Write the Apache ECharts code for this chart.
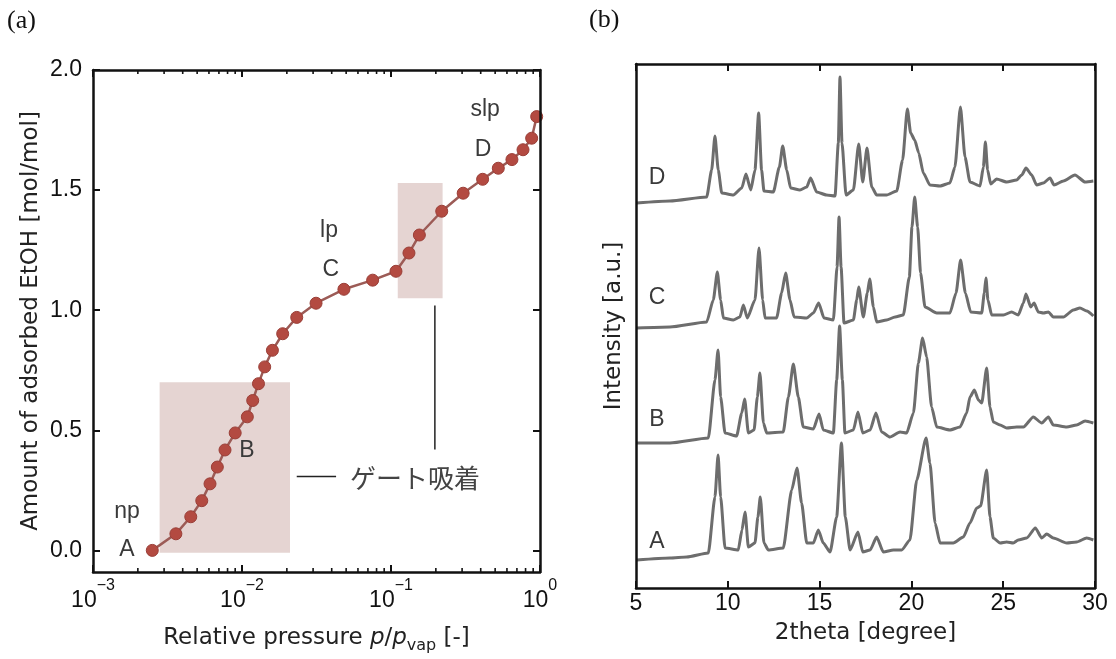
<!DOCTYPE html>
<html><head><meta charset="utf-8">
<script src="https://cdn.jsdelivr.net/npm/echarts@6/dist/echarts.min.js"></script>
<style>html,body{margin:0;padding:0;background:#fff}#c{width:1116px;height:659px}</style>
</head><body><div id="c"></div>
<script>
// ---------- Panel (a): adsorption isotherm ----------
const pressure = [0.0025, 0.0036, 0.00453, 0.00537, 0.0061, 0.00683, 0.00769, 0.0090, 0.01086, 0.0118, 0.0129, 0.0142, 0.0160, 0.01875, 0.0233, 0.0314, 0.0483, 0.0753, 0.108, 0.132, 0.155, 0.219, 0.305, 0.412, 0.525, 0.648, 0.769, 0.879, 0.95];
const amount = [0.0, 0.069, 0.14, 0.207, 0.277, 0.347, 0.418, 0.489, 0.556, 0.624, 0.694, 0.764, 0.833, 0.902, 0.970, 1.029, 1.087, 1.125, 1.162, 1.238, 1.313, 1.412, 1.487, 1.545, 1.591, 1.627, 1.668, 1.716, 1.806];
const yTicksA = [0.0, 0.5, 1.0, 1.5, 2.0];
// shaded gate-adsorption regions: [pMin, pMax, amountMin, amountMax]
const gateRects = [[0.0028, 0.021, -0.01, 0.70], [0.111, 0.222, 1.05, 1.53]];
// leader lines: [p1, a1, p2, a2]
const leaderLines = [[0.197, 1.02, 0.197, 0.42], [0.0233, 0.308, 0.0428, 0.308]];
const labelsA = [
  {t: 'np', p: 0.00169, a: 0.16},
  {t: 'A', p: 0.00169, a: 0.004},
  {t: 'B', p: 0.0108, a: 0.415},
  {t: 'lp', p: 0.0384, a: 1.332},
  {t: 'C', p: 0.0395, a: 1.168},
  {t: 'slp', p: 0.428, a: 1.834},
  {t: 'D', p: 0.414, a: 1.669}
];
const gateText = {t: 'ゲート吸着', p: 0.0531, a: 0.300};

// ---------- Panel (b): XRD patterns ----------
const thetaD = [5.04,6.85,8.85,9.12,9.30,9.48,9.67,10.30,10.76,10.99,11.25,11.48,11.68,11.84,11.97,12.48,12.81,12.99,13.21,13.42,13.93,14.30,14.51,14.84,15.38,15.84,16.02,16.11,16.22,16.44,16.84,17.13,17.35,17.58,17.84,18.11,18.65,19.20,19.52,19.78,19.96,20.18,20.40,20.65,21.01,21.56,22.10,22.37,22.67,22.92,23.19,23.74,23.92,24.03,24.15,24.32,24.64,25.19,25.73,26.01,26.24,26.55,26.82,27.19,27.55,27.77,28.28,28.91,29.46,29.91];
const intD = [385,387,391,418,452,418,395,393,400,414,398,418,475,418,397,396,421,442,418,400,398,401,410,396,393,392,445,511,445,393,398,444,406,440,401,393,393,397,428,479,455,448,435,415,403,402,405,421,481,431,406,402,421,446,418,404,409,406,408,413,420,413,403,405,410,403,407,413,406,407];
const thetaC = [5.04,6.85,8.85,9.21,9.43,9.61,9.76,10.30,10.66,10.85,11.06,11.48,11.70,11.90,12.03,12.66,12.93,13.15,13.39,13.61,14.30,14.66,14.95,15.24,15.75,15.95,16.06,16.17,16.33,16.84,17.02,17.13,17.38,17.60,17.73,17.93,18.11,18.65,19.11,19.56,19.89,20.03,20.18,20.34,20.50,20.74,21.38,22.10,22.43,22.68,22.94,23.23,23.83,23.97,24.06,24.17,24.37,25.01,25.46,25.82,26.10,26.24,26.50,26.68,26.91,27.19,27.46,27.73,28.28,28.82,29.18,29.55,29.91];
const intC = [260,261,266,288,316,288,270,268,271,283,270,288,340,288,270,270,295,315,288,271,270,275,285,270,268,321,371,321,265,268,288,301,271,295,309,281,266,268,271,273,311,361,391,361,315,281,275,275,295,328,295,276,275,295,310,288,273,273,276,273,285,294,281,285,276,275,276,271,271,278,280,277,272];
const thetaB = [5.04,6.85,8.94,9.30,9.47,9.61,9.85,10.48,10.76,10.92,11.12,11.43,11.61,11.75,11.94,12.12,13.02,13.30,13.57,13.84,14.11,14.66,14.97,15.20,15.75,15.93,16.09,16.24,16.38,16.84,17.09,17.35,17.75,18.07,18.38,18.83,19.38,19.74,20.11,20.38,20.61,20.83,21.10,21.38,22.10,22.65,23.01,23.19,23.43,23.65,23.83,24.10,24.28,24.46,24.83,25.19,25.73,26.10,26.64,27.10,27.46,27.73,28.46,29.00,29.46,29.91];
const intB = [145,145,150,208,238,191,155,152,175,189,155,158,191,215,165,155,156,191,224,191,161,159,174,158,155,208,262,208,155,158,176,155,158,175,156,151,156,155,175,225,250,231,181,161,158,161,175,191,198,188,185,220,181,166,163,160,161,161,171,165,171,163,161,163,167,165];
const thetaA = [5.04,6.85,7.76,8.94,9.30,9.47,9.61,9.85,10.57,10.77,10.94,11.12,11.48,11.64,11.77,11.97,12.21,13.02,13.48,13.77,14.02,14.30,14.66,14.93,15.20,15.57,15.93,16.19,16.40,16.66,17.09,17.35,17.75,18.11,18.47,19.02,19.47,19.92,20.29,20.80,21.01,21.29,21.56,22.28,22.83,23.19,23.56,23.77,24.10,24.28,24.46,24.83,25.19,25.55,25.82,26.28,26.75,27.10,27.37,27.73,28.46,29.00,29.55,29.91];
const intA = [28,30,31,35,91,133,91,40,38,58,76,41,45,71,91,45,38,40,98,120,85,45,45,58,45,36,71,145,71,38,56,36,38,51,36,38,38,48,108,150,125,65,45,45,51,65,80,82,118,71,50,45,46,45,48,50,60,50,54,50,45,46,50,48];
const xrdNames = ['A', 'B', 'C', 'D'];
const labelsB = [
  {t: 'D', x: 6.14, y: 410},
  {t: 'C', x: 6.14, y: 290},
  {t: 'B', x: 6.14, y: 168},
  {t: 'A', x: 6.14, y: 46}
];
const thetaTicks = [5, 10, 15, 20, 25, 30];

// ---------- styling ----------
const SANS = '"Liberation Sans", Arial, Helvetica, sans-serif';
const TITLEF = '"DejaVu Sans", "Liberation Sans", sans-serif';
const AX = '#111';
const TXT = '#3a3a3a';
const yMinA = -0.09, yMaxA = 2.0;
const yMinB = 0, yMaxB = 524;

const zip = (a, b) => a.map((v, i) => [v, b[i]]);
const minorVals = [];
[-3, -2, -1].forEach(e => { for (let m = 2; m <= 9; m++) minorVals.push(+(m * Math.pow(10, e)).toPrecision(3)); });

function supLabel(v) {
  const e = Math.round(Math.log10(v));
  return '{b|10}{s|' + (e < 0 ? '\u2212' + (-e) : e) + '}';
}

const axisLineStyle = {show: true, onZero: false, lineStyle: {color: AX, width: 2.5}};
const tickStyle = {show: true, inside: true, length: 7, lineStyle: {color: AX, width: 2}};

const chart = echarts.init(document.getElementById('c'));
chart.setOption({
  animation: false,
  backgroundColor: '#fff',
  title: [
    {text: '(a)', left: 7, top: 8, padding: 0, textStyle: {fontFamily: '"Liberation Serif", "DejaVu Serif", serif', fontSize: 26, fontWeight: 'normal', color: '#111'}},
    {text: '(b)', left: 589, top: 7, padding: 0, textStyle: {fontFamily: '"Liberation Serif", "DejaVu Serif", serif', fontSize: 26, fontWeight: 'normal', color: '#111'}}
  ],
  grid: [
    {left: 93, top: 70, width: 447, height: 508, show: false},
    {left: 636, top: 64, width: 459, height: 524, show: false}
  ],
  xAxis: [
    {type: 'log', logBase: 10, gridIndex: 0, min: 0.001, max: 1, position: 'bottom', z: 10,
     axisLine: axisLineStyle, axisTick: tickStyle, splitLine: {show: false}, minorTick: {show: false},
     axisLabel: {margin: 6, formatter: supLabel, rich: {
       b: {fontSize: 23, fontFamily: SANS, color: AX, lineHeight: 34, verticalAlign: 'bottom'},
       s: {fontSize: 16, fontFamily: SANS, color: AX, lineHeight: 34, verticalAlign: 'top'}}},
     name: '{n|Relative pressure }{i|p}{n|/}{i|p}{sub|vap}{n| [-]}', nameLocation: 'middle', nameGap: 50,
     nameTextStyle: {rich: {
       n: {fontSize: 23, fontFamily: TITLEF, color: '#222', lineHeight: 32, verticalAlign: 'middle'},
       i: {fontSize: 23, fontFamily: TITLEF, fontStyle: 'italic', color: '#222', lineHeight: 32, verticalAlign: 'middle'},
       sub: {fontSize: 16, fontFamily: TITLEF, color: '#222', lineHeight: 32, verticalAlign: 'bottom'}}}},
    {type: 'log', logBase: 10, gridIndex: 0, min: 0.001, max: 1, position: 'top', z: 10,
     axisLine: axisLineStyle, axisTick: tickStyle, axisLabel: {show: false}, splitLine: {show: false}},
    {type: 'value', gridIndex: 1, min: 5, max: 30, interval: 5, position: 'bottom', z: 10,
     axisLine: axisLineStyle, axisTick: tickStyle, splitLine: {show: false},
     axisLabel: {margin: 4, fontSize: 23, fontFamily: SANS, color: AX,
       customValues: thetaTicks},
     name: '2theta [degree]', nameLocation: 'middle', nameGap: 34,
     nameTextStyle: {fontSize: 23, fontFamily: TITLEF, color: '#222', verticalAlign: 'top'}},
    {type: 'value', gridIndex: 1, min: 5, max: 30, interval: 5, position: 'top', z: 10,
     axisLine: axisLineStyle, axisTick: tickStyle, axisLabel: {show: false}, splitLine: {show: false}}
  ],
  yAxis: [
    {type: 'value', gridIndex: 0, min: yMinA, max: yMaxA, position: 'left', z: 10,
     axisLine: axisLineStyle, axisTick: Object.assign({}, tickStyle, {customValues: yTicksA}), splitLine: {show: false},
     axisLabel: {margin: 11, fontSize: 23, fontFamily: SANS, color: AX, customValues: yTicksA, formatter: v => v.toFixed(1)},
     name: 'Amount of adsorbed EtOH [mol/mol]', nameLocation: 'middle', nameGap: 50,
     nameTextStyle: {fontSize: 23, fontFamily: TITLEF, color: '#222'}},
    {type: 'value', gridIndex: 0, min: yMinA, max: yMaxA, position: 'right', z: 10,
     axisLine: axisLineStyle, axisTick: Object.assign({}, tickStyle, {customValues: yTicksA}), axisLabel: {show: false}, splitLine: {show: false}},
    {type: 'value', gridIndex: 1, min: yMinB, max: yMaxB, position: 'left', z: 10,
     axisLine: axisLineStyle, axisTick: {show: false}, axisLabel: {show: false}, splitLine: {show: false},
     name: 'Intensity [a.u.]', nameLocation: 'middle', nameGap: 10,
     nameTextStyle: {fontSize: 23, fontFamily: TITLEF, color: '#222'}},
    {type: 'value', gridIndex: 1, min: yMinB, max: yMaxB, position: 'right', z: 10,
     axisLine: axisLineStyle, axisTick: {show: false}, axisLabel: {show: false}, splitLine: {show: false}}
  ],
  series: [
    {type: 'custom', name: 'gate regions', xAxisIndex: 0, yAxisIndex: 0, z: 1,
     encode: {x: [0, 1], y: [2, 3]}, data: gateRects,
     renderItem: (params, api) => {
       const p0 = api.coord([api.value(0), api.value(3)]);
       const p1 = api.coord([api.value(1), api.value(2)]);
       return {type: 'rect', shape: {x: p0[0], y: p0[1], width: p1[0] - p0[0], height: p1[1] - p0[1]},
               style: {fill: '#e5d4d2'}};
     }},
    {type: 'custom', name: 'minor ticks', xAxisIndex: 0, yAxisIndex: 0, z: 11,
     encode: {x: 0, y: 1}, data: minorVals.map(v => [v, 1]),
     renderItem: (params, api) => {
       const p = api.coord([api.value(0), 1]);
       const cs = params.coordSys;
       const st = {stroke: AX, lineWidth: 1.6};
       return {type: 'group', children: [
         {type: 'line', shape: {x1: p[0], y1: cs.y + cs.height, x2: p[0], y2: cs.y + cs.height - 4}, style: st},
         {type: 'line', shape: {x1: p[0], y1: cs.y, x2: p[0], y2: cs.y + 4}, style: st}
       ]};
     }},
    {type: 'line', name: 'EtOH isotherm', xAxisIndex: 0, yAxisIndex: 0, z: 3,
     data: zip(pressure, amount), symbol: 'circle', symbolSize: 12, showSymbol: true,
     lineStyle: {color: '#9c5b56', width: 2.5},
     itemStyle: {color: '#b34a41', borderColor: '#9a3f38', borderWidth: 1}},
    {type: 'custom', name: 'leaders', xAxisIndex: 0, yAxisIndex: 0, z: 4,
     encode: {x: [0, 2], y: [1, 3]}, data: leaderLines,
     renderItem: (params, api) => {
       const p0 = api.coord([api.value(0), api.value(1)]);
       const p1 = api.coord([api.value(2), api.value(3)]);
       return {type: 'line', shape: {x1: p0[0], y1: p0[1], x2: p1[0], y2: p1[1]}, style: {stroke: '#222', lineWidth: 1.5}};
     }},
    {type: 'custom', name: 'labels a', xAxisIndex: 0, yAxisIndex: 0, z: 5,
     encode: {x: 0, y: 1}, data: labelsA.map(d => [d.p, d.a]).concat([[gateText.p, gateText.a]]),
     renderItem: (params, api) => {
       const i = params.dataIndex;
       const p = api.coord([api.value(0), api.value(1)]);
       if (i < labelsA.length) {
         return {type: 'text', x: p[0], y: p[1], style: {text: labelsA[i].t, fill: TXT, fontSize: 23, fontFamily: SANS, align: 'center', verticalAlign: 'middle'}};
       }
       return {type: 'text', x: p[0], y: p[1], style: {text: gateText.t, fill: '#444', fontSize: 26, fontFamily: '"Noto Sans CJK JP", sans-serif', align: 'left', verticalAlign: 'middle'}};
     }},
    ...[[thetaA, intA], [thetaB, intB], [thetaC, intC], [thetaD, intD]].map((c, k) => ({
      type: 'line', name: xrdNames[k], xAxisIndex: 2, yAxisIndex: 2, z: 3,
      data: zip(c[0], c[1]), showSymbol: false, symbol: 'none', smooth: 0.2, smoothMonotone: 'x',
      lineStyle: {color: '#6d6d6d', width: 3}
    })),
    {type: 'custom', name: 'labels b', xAxisIndex: 2, yAxisIndex: 2, z: 5,
     encode: {x: 0, y: 1}, data: labelsB.map(d => [d.x, d.y]),
     renderItem: (params, api) => {
       const p = api.coord([api.value(0), api.value(1)]);
       return {type: 'text', x: p[0], y: p[1], style: {text: labelsB[params.dataIndex].t, fill: TXT, fontSize: 23, fontFamily: SANS, align: 'center', verticalAlign: 'middle'}};
     }}
  ]
});
</script>
</body></html>
